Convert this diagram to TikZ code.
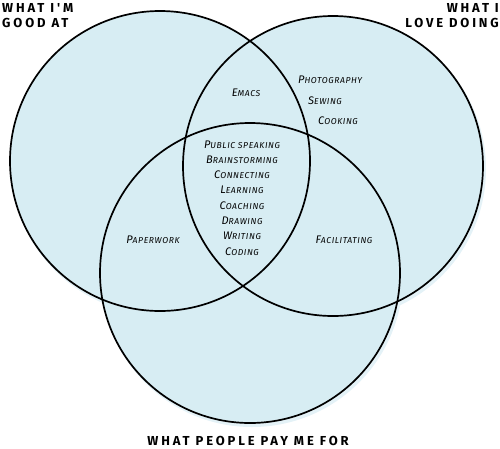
\documentclass[tikz,border=0pt]{standalone}
\usepackage{fontspec}
\setmainfont{Fira Sans}
\newfontfamily\headfont[LetterSpace=22]{Fira Sans}
\newfontfamily\itemfont[LetterSpace=7]{Fira Sans}
\usetikzlibrary{positioning, calc}
\definecolor{setblue}{HTML}{D7EDF3}
\definecolor{glowblue}{HTML}{C2E2EE}
% first letter as a capital, the rest in small capitals
\newcommand{\itm}[2]{#1{\fontsize{8.6}{10}\selectfont\MakeUppercase{#2}}}

\begin{document}
\begin{tikzpicture}[
    x=1pt, y=-1pt,
    setfill/.style={fill=setblue},
    setglow/.style={fill=glowblue!45},
    setline/.style={draw=black, line width=1.7pt},
    heading/.style={font=\headfont\bfseries\fontsize{13}{15}\selectfont, inner sep=0pt, anchor=base},
    item/.style={font=\itemfont\itshape\fontsize{11}{12}\selectfont, inner sep=0pt, anchor=base}
]
    \useasboundingbox (0,0) rectangle (500,448);

    % Sets
    \coordinate (good) at (160,161);
    \coordinate (love) at (333,166);
    \coordinate (paid) at (250,273);

    \foreach \c in {good, love, paid}
        \fill[setglow] ($(\c)+(2,3)$) circle[radius=151pt];
    \foreach \c in {good, love, paid}
        \fill[setfill] (\c) circle[radius=150pt];
    \foreach \c in {good, love, paid}
        \draw[setline] (\c) circle[radius=150pt];

    % Set titles
    \node[heading, align=left, anchor=base west] (goodtitle) at (2,27) {WHAT I'M\\GOOD AT};
    \node[heading, align=right, anchor=base east] (lovetitle) at (499,27) {WHAT I\\LOVE DOING};
    \node[heading] (paidtitle) at (248,445) {WHAT PEOPLE PAY ME FOR};

    % Items
    \node[item] (emacs) at (246,96) {\itm{E}{macs}};
    \node[item, anchor=base west] (photo) at (298,83) {\itm{P}{hotography}};
    \node[item, anchor=base west] (sewing) at (308,104) {\itm{S}{ewing}};
    \node[item, anchor=base west] (cooking) at (318,124) {\itm{C}{ooking}};

    \node[item] (speaking) at (242,148) {\itm{P}{ublic speaking}};
    \node[item, below=15.3pt of speaking.base, anchor=base] (brain) {\itm{B}{rainstorming}};
    \node[item, below=15.3pt of brain.base, anchor=base] (connect) {\itm{C}{onnecting}};
    \node[item, below=15.3pt of connect.base, anchor=base] (learn) {\itm{L}{earning}};
    \node[item, below=15.3pt of learn.base, anchor=base] (coach) {\itm{C}{oaching}};
    \node[item, below=15.3pt of coach.base, anchor=base] (draw) {\itm{D}{rawing}};
    \node[item, below=15.3pt of draw.base, anchor=base] (write) {\itm{W}{riting}};
    \node[item, below=15.3pt of write.base, anchor=base] (code) {\itm{C}{oding}};

    \node[item] (paper) at (153,243) {\itm{P}{aperwork}};
    \node[item] (facil) at (344,243) {\itm{F}{acilitating}};

\end{tikzpicture}
\end{document}
